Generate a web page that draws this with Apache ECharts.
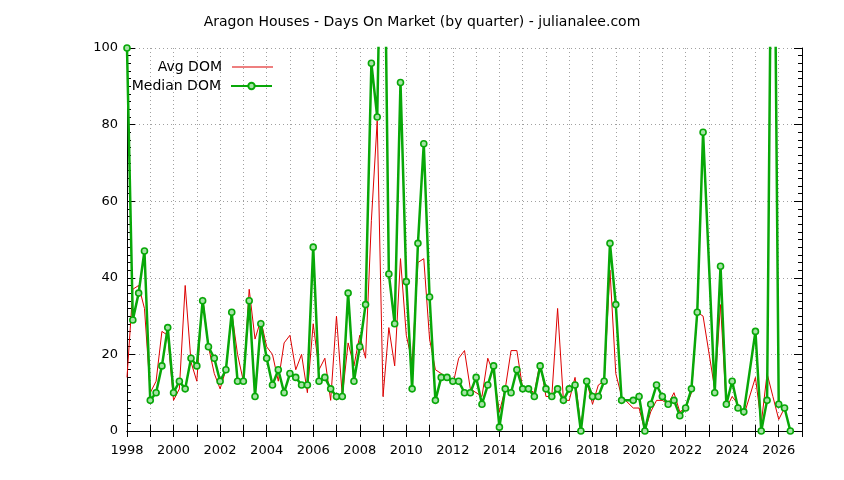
<!DOCTYPE html>
<html>
<head>
<meta charset="utf-8">
<title>Aragon Houses - Days On Market</title>
<script src="https://cdn.jsdelivr.net/npm/echarts@6.0.0/dist/echarts.min.js"></script>
<style>
  html, body { margin: 0; padding: 0; background: #fff; }
  #chart { width: 844px; height: 480px; }
</style>
</head>
<body>
<div id="chart"></div>
<script>
// quarterly series, first quarter = 1998 Q1, one value per quarter (null = no sales that quarter)
const startYear = 1998;
const quarterStep = 0.25;

const avgDom = [
  14, 37, 38, 32,   // 1998
  10, 13, 26, 25,   // 1999
  8, 11, 38, 18,    // 2000
  13, 35, 22, 15,   // 2001
  11, 16, 31, 20,   // 2002
  13, 37, 24, 29,   // 2003
  22, 20, 13, 23,   // 2004
  25, 16, 20, 10,   // 2005
  28, 16, 19, 8,    // 2006
  30, 9, 23, 17,    // 2007
  25, 19, 55, 81,   // 2008
  9, 27, 17, 45,    // 2009
  25, 18, 44, 45,   // 2010
  24, 16, 15, 14,   // 2011
  12, 19, 21, 11,   // 2012
  10, 9, 19, 15,    // 2013
  5, 11, 21, 21,    // 2014
  11, 11, 10, 18,   // 2015
  9, 9, 32, 8,      // 2016
  8, 14, 1, 13,     // 2017
  7, 12, 13, 42,    // 2018
  15, 9, null, 6,   // 2019
  6, 0, 5, 8,       // 2020
  8, 7, 10, 5,      // 2021
  6, 10, 31, 30,    // 2022
  null, 11, 33, 6,  // 2023
  9, 7, 4, null,    // 2024
  14, 2, 15, 9,     // 2025
  3, 6, null        // 2026
];

const medianDom = [
  100, 29, 36, 47,  // 1998
  8, 10, 17, 27,    // 1999
  10, 13, 11, 19,   // 2000
  17, 34, 22, 19,   // 2001
  13, 16, 31, 13,   // 2002
  13, 34, 9, 28,    // 2003
  19, 12, 16, 10,   // 2004
  15, 14, 12, 12,   // 2005
  48, 13, 14, 11,   // 2006
  9, 9, 36, 13,     // 2007
  22, 33, 96, 82,   // 2008
  165, 41, 28, 91,  // 2009
  39, 11, 49, 75,   // 2010
  35, 8, 14, 14,    // 2011
  13, 13, 10, 10,   // 2012
  14, 7, 12, 17,    // 2013
  1, 11, 10, 16,    // 2014
  11, 11, 9, 17,    // 2015
  11, 9, 11, 8,     // 2016
  11, 12, 0, 13,    // 2017
  9, 9, 13, 49,     // 2018
  33, 8, null, 8,   // 2019
  9, 0, 7, 12,      // 2020
  9, 7, 8, 4,       // 2021
  6, 11, 31, 78,    // 2022
  null, 10, 43, 7,  // 2023
  13, 6, 5, null,   // 2024
  26, 0, 8, 185,    // 2025
  7, 6, 0           // 2026
];

const yTicks = [0, 20, 40, 60, 80, 100];
const xMin = 1998, xMax = 2027;

const toPairs = (arr) => arr.map((v, i) => [startYear + i * quarterStep, v]);

const FONT = 'DejaVu Sans';
const chart = echarts.init(document.getElementById('chart'), null, { renderer: 'canvas' });

const gridLine = { show: true, lineStyle: { color: '#a0a0a0', type: [1, 3], width: 1 } };
const baseX = {
  type: 'value', min: xMin, max: xMax, interval: 1,
  axisLine: { show: true, lineStyle: { color: '#000', width: 1 } },
  axisTick: { show: true, inside: true, length: 6, lineStyle: { color: '#000' } },
  minorTick: { show: false }
};
const baseY = {
  type: 'value', min: yTicks[0], max: yTicks[yTicks.length - 1], interval: 20,
  axisLine: { show: true, lineStyle: { color: '#000', width: 1 } },
  axisTick: { show: true, inside: true, length: 8, lineStyle: { color: '#000' } },
  minorTick: { show: true, splitNumber: 10, length: 4, lineStyle: { color: '#000' } }
};

const legendText = { fontFamily: FONT, fontSize: 14, color: '#000', padding: [0, 5, 0, 0] };

const option = {
  animation: false,
  backgroundColor: '#fff',
  textStyle: { fontFamily: FONT },
  title: {
    text: 'Aragon Houses - Days On Market (by quarter) - julianalee.com',
    left: 'center', top: 10,
    textStyle: { fontFamily: FONT, fontSize: 14, fontWeight: 'normal', color: '#000' }
  },
  legend: [
    {
      data: [{ name: 'Avg DOM', icon: 'rect' }], align: 'right', right: 571, top: 60, padding: 0,
      itemWidth: 41, itemHeight: 1, itemGap: 6,
      textStyle: legendText
    },
    {
      data: ['Median DOM'], align: 'right', right: 571, top: 79, padding: 0,
      itemWidth: 41, itemHeight: 8, itemGap: 6,
      textStyle: legendText
    }
  ],
  grid: { left: 127, right: 42, top: 48, bottom: 49, show: false },
  xAxis: [
    Object.assign({}, baseX, {
      position: 'bottom',
      axisLabel: {
        color: '#000', fontSize: 13, fontFamily: FONT, margin: 13,
        formatter: (v) => (v % 2 === 0 ? String(v) : '')
      },
      splitLine: gridLine
    }),
    Object.assign({}, baseX, {
      position: 'top',
      axisLabel: { show: false },
      splitLine: { show: false }
    })
  ],
  yAxis: [
    Object.assign({}, baseY, {
      position: 'left',
      axisLabel: { color: '#000', fontSize: 13, fontFamily: FONT, margin: 9 },
      splitLine: gridLine
    }),
    Object.assign({}, baseY, {
      position: 'right',
      axisLabel: { show: false },
      splitLine: { show: false }
    })
  ],
  series: [
    {
      name: 'Avg DOM', type: 'line', data: toPairs(avgDom),
      xAxisIndex: 0, yAxisIndex: 0,
      symbol: 'none', connectNulls: true, clip: true,
      lineStyle: { color: '#dd0000', width: 1 },
      itemStyle: { color: '#dd0000' },
      z: 2
    },
    {
      name: 'Median DOM', type: 'line', data: toPairs(medianDom),
      xAxisIndex: 0, yAxisIndex: 0,
      symbol: 'circle', symbolSize: 6, showSymbol: true, connectNulls: true, clip: true,
      lineStyle: { color: '#08a808', width: 2.5 },
      itemStyle: { color: '#a6e3a6', borderColor: '#08a808', borderWidth: 1.6 },
      z: 3
    }
  ]
};

chart.setOption(option);
</script>
</body>
</html>
